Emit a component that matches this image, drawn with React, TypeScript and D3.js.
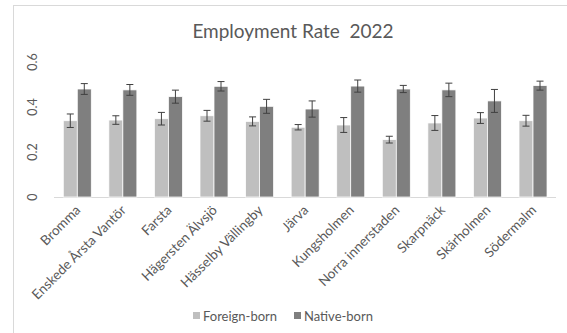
import React from "react";
import * as d3 from "d3";

const categories = [
  "Bromma",
  "Enskede Årsta Vantör",
  "Farsta",
  "Hägersten Älvsjö",
  "Hässelby Vällingby",
  "Järva",
  "Kungsholmen",
  "Norra innerstaden",
  "Skarpnäck",
  "Skärholmen",
  "Södermalm",
];
const foreignBorn = [0.339, 0.342, 0.348, 0.361, 0.336, 0.31, 0.32, 0.255, 0.329, 0.351, 0.339];
const foreignErr = [0.03, 0.019, 0.028, 0.024, 0.02, 0.012, 0.033, 0.015, 0.033, 0.024, 0.024];
const nativeBorn = [0.48, 0.476, 0.446, 0.492, 0.403, 0.391, 0.493, 0.48, 0.476, 0.427, 0.495];
const nativeErr = [0.024, 0.024, 0.029, 0.021, 0.031, 0.036, 0.027, 0.016, 0.03, 0.051, 0.02];
const yTicks = [0, 0.2, 0.4, 0.6];
const seriesNames = ["Foreign-born", "Native-born"];
const seriesColors = ["#bfbfbf", "#7f7f7f"];

const W = 567;
const H = 333;
const FONT = "Lato, 'Open Sans', sans-serif";

export default function App() {
  const x = d3.scaleBand<string>().domain(categories).range([54.5, 555.8]).paddingInner(0).paddingOuter(0);
  const y = d3.scaleLinear().domain([0, 0.6]).range([197, 62]);
  const barW = 14;
  const series = [
    { vals: foreignBorn, errs: foreignErr },
    { vals: nativeBorn, errs: nativeErr },
  ];
  return (
    <svg
      width={W}
      height={H}
      style={{ position: "absolute", left: 0, top: 0, background: "#fff" }}
      fontFamily={FONT}
    >
      <rect x={13.5} y={5.5} width={W} height={H} fill="#fff" stroke="#d9d9d9" strokeWidth={1} />
      <text
        x={293}
        y={38}
        textAnchor="middle"
        fontSize={19}
        fill="#595959"
        style={{ whiteSpace: "pre" }}
        xmlSpace="preserve"
      >
        {"Employment Rate  2022"}
      </text>
      {yTicks.map((t) => (
        <text
          key={t}
          transform={`translate(37,${y(t)}) rotate(-90)`}
          textAnchor="middle"
          fontSize={12.5}
          fill="#595959"
        >
          {t === 0 ? "0" : d3.format(".1f")(t)}
        </text>
      ))}
      <line x1={54} x2={556} y1={197.5} y2={197.5} stroke="#d9d9d9" strokeWidth={1} />
      {categories.map((c, i) => {
        const cx = (x(c) as number) + x.bandwidth() / 2;
        return (
          <g key={c}>
            {series.map((s, si) => {
              const bx = cx - barW + si * barW;
              const v = s.vals[i];
              const e = s.errs[i];
              const bcx = bx + barW / 2;
              return (
                <g key={si}>
                  <rect
                    x={bx}
                    y={y(v)}
                    width={barW}
                    height={y(0) - y(v)}
                    fill={seriesColors[si]}
                    stroke="#fff"
                    strokeWidth={0.75}
                  />
                  <g stroke="#404040" strokeWidth={1}>
                    <line x1={bcx} x2={bcx} y1={y(v + e)} y2={y(v - e)} />
                    <line x1={bcx - 3.5} x2={bcx + 3.5} y1={y(v + e)} y2={y(v + e)} />
                    <line x1={bcx - 3.5} x2={bcx + 3.5} y1={y(v - e)} y2={y(v - e)} />
                  </g>
                </g>
              );
            })}
            <text
              transform={`translate(${cx + 4},${211}) rotate(-45)`}
              textAnchor="end"
              fontSize={13.5}
              fill="#595959"
            >
              {c}
            </text>
          </g>
        );
      })}
      {seriesNames.map((n, i) => {
        const lx = i === 0 ? 193 : 294;
        return (
          <g key={n}>
            <rect x={lx} y={312} width={7} height={7} fill={seriesColors[i]} />
            <text x={lx + 10} y={320.5} fontSize={13} fill="#595959">
              {n}
            </text>
          </g>
        );
      })}
    </svg>
  );
}
